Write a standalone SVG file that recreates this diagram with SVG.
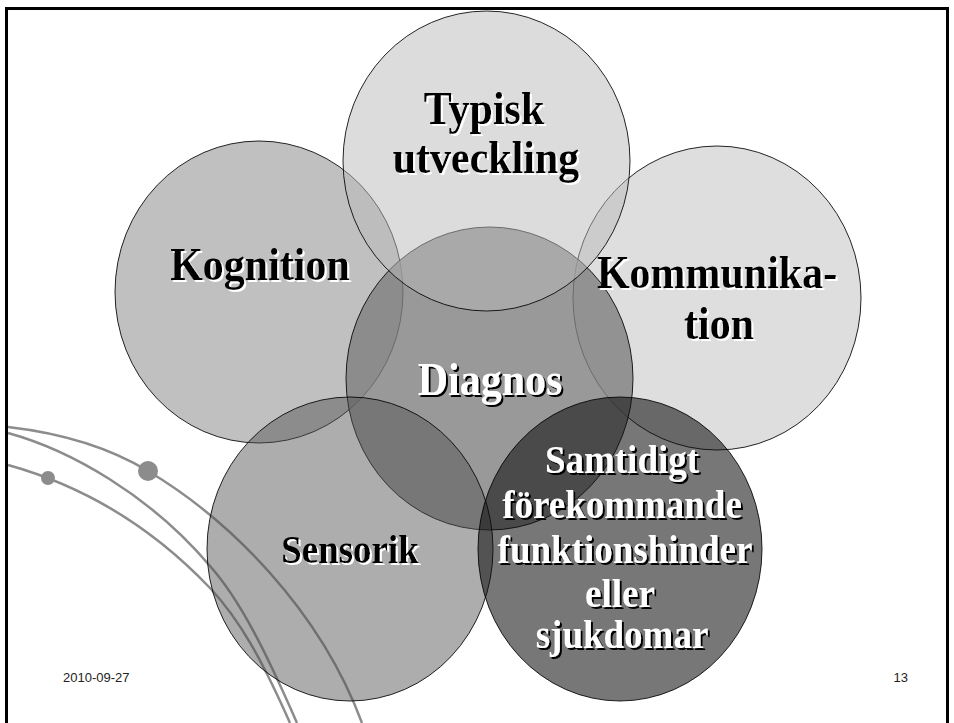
<svg xmlns="http://www.w3.org/2000/svg" width="954" height="723" viewBox="0 0 954 723">
<defs>
<filter id="shW" x="-10%" y="-10%" width="130%" height="140%">
<feOffset in="SourceAlpha" dx="2" dy="2" result="o"/>
<feFlood flood-color="#ffffff"/>
<feComposite in2="o" operator="in" result="s"/>
<feMerge><feMergeNode in="s"/><feMergeNode in="SourceGraphic"/></feMerge>
</filter>
<filter id="shB" x="-10%" y="-10%" width="130%" height="140%">
<feOffset in="SourceAlpha" dx="2" dy="2" result="o"/>
<feFlood flood-color="#000000"/>
<feComposite in2="o" operator="in" result="s"/>
<feMerge><feMergeNode in="s"/><feMergeNode in="SourceGraphic"/></feMerge>
</filter>
</defs>
<style>
.c{stroke:#000;stroke-width:1;stroke-opacity:0.85}
.deco{fill:none;stroke:#8c8c8c;stroke-width:2.5}
.t{font-family:"Liberation Serif","Times New Roman",serif;font-weight:bold;text-anchor:middle}
.blk{fill:#000;filter:url(#shW)}
.wht{fill:#fff;filter:url(#shB)}
.foot{font-family:"Liberation Sans",Arial,sans-serif;font-size:13px;fill:#222}
</style>
<rect width="954" height="723" fill="#fff"/>
<g id="decoration">
<path class="deco" d="M8,427 C60,433 110,448 148,471 C230,520 320,610 362,723"/>
<path class="deco" d="M8,433 C70,450 150,495 210,566 C240,600 265,650 297,723"/>
<path class="deco" d="M8,465 C80,485 150,525 210,588 C240,620 262,660 290,723"/>
<circle cx="148" cy="471" r="10" fill="#8c8c8c"/>
<circle cx="48" cy="478" r="7" fill="#8c8c8c"/>
</g>
<g id="connectors"></g>
<g id="kognition">
<ellipse class="c" cx="259" cy="292" rx="144" ry="151" fill="#969696" fill-opacity="0.6"/>
</g>
<g id="kommunikation">
<ellipse class="c" cx="717" cy="298" rx="144" ry="152" fill="#acacac" fill-opacity="0.4"/>
</g>
<g id="diagnos">
<ellipse class="c" cx="489.5" cy="378.5" rx="143.5" ry="151.5" fill="#7e7e7e" fill-opacity="0.79"/>
</g>
<g id="sensorik">
<ellipse class="c" cx="350" cy="549" rx="143" ry="152" fill="#505050" fill-opacity="0.47"/>
</g>
<g id="samtidigt">
<ellipse class="c" cx="620" cy="549" rx="142" ry="152" fill="#0d0d0d" fill-opacity="0.56"/>
</g>
<g id="typisk">
<ellipse class="c" cx="486.5" cy="161" rx="143.5" ry="150" fill="#b9b9b9" fill-opacity="0.5"/>
</g>
<g id="labels">
<g class="t" font-size="42">
<text class="blk" transform="translate(484,124) scale(1,1.1)">Typisk</text>
<text class="blk" transform="translate(486,173) scale(1,1.1)">utveckling</text>
<text class="blk" transform="translate(260,280) scale(1,1.1)">Kognition</text>
<text class="blk" transform="translate(717,288) scale(1,1.1)">Kommunika-</text>
<text class="blk" transform="translate(719,339) scale(1,1.1)">tion</text>
<text class="wht" transform="translate(490,395) scale(1,1.1)">Diagnos</text>
</g>
<g class="t" font-size="37">
<text class="blk" transform="translate(350,563) scale(1,1.1)">Sensorik</text>
<text class="wht" transform="translate(622,473) scale(1,1.1)">Samtidigt</text>
<text class="wht" transform="translate(622,518) scale(1,1.1)">förekommande</text>
<text class="wht" transform="translate(625,563) scale(1,1.1)">funktionshinder</text>
<text class="wht" transform="translate(620,607) scale(1,1.1)">eller</text>
<text class="wht" transform="translate(622,648) scale(1,1.1)">sjukdomar</text>
</g>
</g>
<g id="footer">
<text class="foot" x="63" y="682">2010-09-27</text>
<text class="foot" x="908" y="682" text-anchor="end">13</text>
</g>
<g id="frame" fill="none" stroke="#000" stroke-width="3">
<path d="M6.5,723 V8.5 H947.5 V723"/>
</g>
</svg>
